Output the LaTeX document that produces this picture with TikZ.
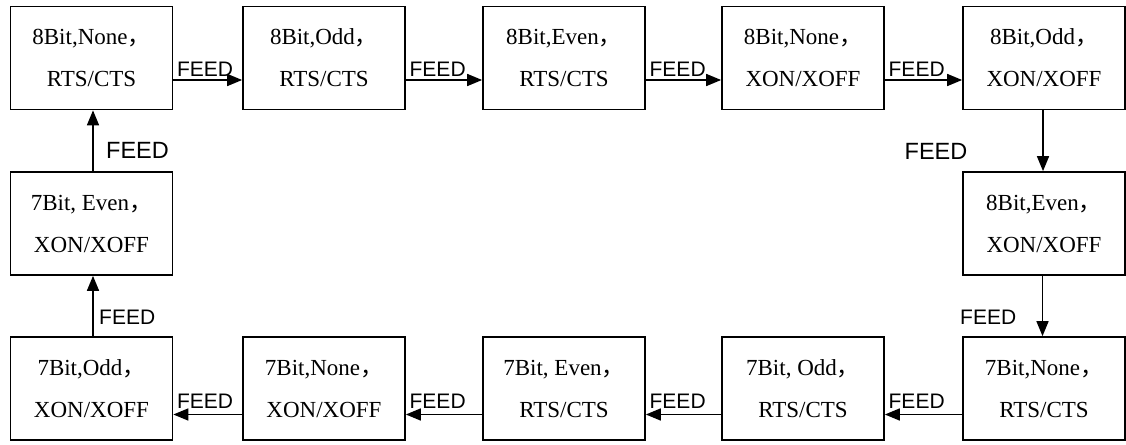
\documentclass[tikz,border=0pt]{standalone}
\usepackage{fontspec}
\setmainfont{Liberation Serif}
\newfontfamily\cjk{Noto Sans CJK SC}
\newfontfamily\feedfont{Liberation Sans}
\usetikzlibrary{arrows.meta}
\begin{document}
\begin{tikzpicture}[x=1pt,y=-1pt,
 box/.style={draw, line width=1.7pt, minimum width=162pt, minimum height=103pt, inner sep=0pt, align=center, font=\fontsize{23}{42}\selectfont},
 arr/.style={line width=1.6pt, -{Triangle[length=15pt,width=12pt]}},
 lbl/.style={font=\feedfont\fontsize{21}{21}\selectfont, inner sep=0pt},
 biglbl/.style={font=\feedfont\fontsize{23.5}{23.5}\selectfont, inner sep=0pt}]
\useasboundingbox (0,0) rectangle (1126,444);
% top row
\node[box] (t1) at (91.5,58) {8Bit,None\cjk{，}\\RTS/CTS};
\node[box] (t2) at (324,58) {8Bit,Odd\cjk{，}\\RTS/CTS};
\node[box] (t3) at (564,58) {8Bit,Even\cjk{，}\\RTS/CTS};
\node[box] (t4) at (803,58) {8Bit,None\cjk{，}\\XON/XOFF};
\node[box] (t5) at (1044,58) {8Bit,Odd\cjk{，}\\XON/XOFF};
% middle
\node[box] (r) at (1044,223.5) {8Bit,Even\cjk{，}\\XON/XOFF};
\node[box] (l) at (91.5,223.5) {7Bit, Even\cjk{，}\\XON/XOFF};
% bottom row
\node[box] (b5) at (1044,388.5) {7Bit,None\cjk{，}\\RTS/CTS};
\node[box] (b4) at (803,388.5) {7Bit, Odd\cjk{，}\\RTS/CTS};
\node[box] (b3) at (564,388.5) {7Bit, Even\cjk{，}\\RTS/CTS};
\node[box] (b2) at (324,388.5) {7Bit,None\cjk{，}\\XON/XOFF};
\node[box] (b1) at (91.5,388.5) {7Bit,Odd\cjk{，}\\XON/XOFF};
% top arrows
\foreach \a/\b in {t1/t2,t2/t3,t3/t4,t4/t5}{
  \draw[arr] ([yshift=-22pt]\a.east) -- ([yshift=-22pt]\b.west)
    node[lbl, pos=0, anchor=base west, xshift=3pt, yshift=4pt] {FEED};
}
% bottom arrows
\foreach \a/\b in {b5/b4,b4/b3,b3/b2,b2/b1}{
  \draw[arr] ([yshift=-26pt]\a.west) -- ([yshift=-26pt]\b.east)
    node[lbl, pos=1, anchor=base west, xshift=3pt, yshift=6pt] {FEED};
}
% vertical arrows
\draw[arr] ([xshift=-1pt]t5.south) -- ([xshift=-1pt]r.north);
\draw[arr] ([xshift=-1.5pt]r.south) -- ([xshift=-1.5pt]b5.north);
\draw[arr] ([xshift=1.5pt]b1.north) -- ([xshift=1.5pt]l.south);
\draw[arr] ([xshift=1.5pt]l.north) -- ([xshift=1.5pt]t1.south);
% vertical labels
\node[biglbl, anchor=center] (fr) at (936,151) {FEED};
\node[biglbl, anchor=center] (fl) at (137.5,150) {FEED};
\node[lbl, anchor=west] (fbr) at (960,317) {FEED};
\node[lbl, anchor=west] (fbl) at (99,317) {FEED};
\end{tikzpicture}
\end{document}
